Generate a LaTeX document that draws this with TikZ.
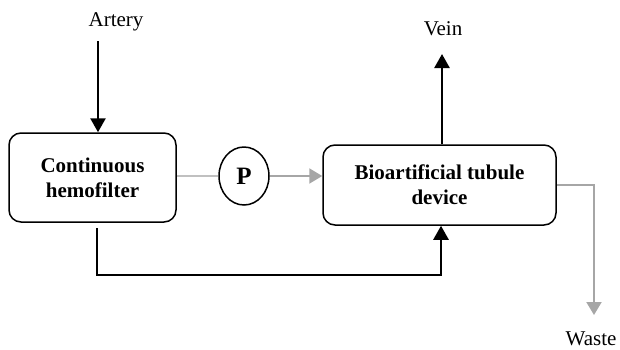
\documentclass[tikz,border=0pt]{standalone}
\usepackage{fontspec}
\setmainfont{Liberation Serif}
\usetikzlibrary{arrows.meta,shapes.geometric}
\definecolor{lightline}{HTML}{C0C0C0}
\definecolor{midline}{HTML}{A6A6A6}
\tikzset{
  procbox/.style={draw=black,line width=1.5pt,rounded corners=12pt,align=center,
    font=\fontsize{21}{25}\selectfont\bfseries,inner sep=0pt},
  labeltext/.style={font=\fontsize{21}{25}\selectfont,inner sep=0pt},
  blackarrow/.style={draw=black,line width=2.5pt,-{Triangle[width=15pt,length=14pt]}},
  greyarrow/.style={draw=midline,line width=2pt,-{Triangle[width=15pt,length=13pt]}},
  greyline/.style={draw=lightline,line width=2pt},
}
\begin{document}
\begin{tikzpicture}[x=1pt,y=-1pt]
\useasboundingbox (0,0) rectangle (620,349);
\node[procbox,minimum width=167pt,minimum height=89pt] (filter) at (92.5,177.5) {Continuous\\hemofilter};
\node[procbox,minimum width=233pt,minimum height=80pt] (device) at (439.5,185) {Bioartificial tubule\\device};
\node[draw=black,line width=1.5pt,ellipse,minimum width=50pt,minimum height=58pt,inner sep=0pt,
  font=\fontsize{25}{30}\selectfont\bfseries] (pump) at (244,176) {P};
\node[labeltext] (artery) at (116,22) {Artery};
\node[labeltext] (vein) at (443,29) {Vein};
\node[labeltext] (waste) at (591,339) {Waste};
\coordinate (arterystart) at (98,41);
\coordinate (veinend) at (442,54);
\coordinate (wasteend) at (594,315);
\coordinate (loopstart) at (97,228);
\coordinate (loopcorner) at (441,275);
\draw[blackarrow] (arterystart) -- (arterystart |- filter.north);
\draw[greyline] (filter.east |- pump.west) -- (pump.west);
\draw[greyarrow] (pump.east) -- (pump.east -| device.west);
\draw[blackarrow] (veinend |- device.north) -- (veinend);
\draw[greyarrow] (device.east) -| (wasteend);
\draw[blackarrow] (loopstart) |- (loopcorner) -- (loopcorner |- device.south);
\end{tikzpicture}
\end{document}
